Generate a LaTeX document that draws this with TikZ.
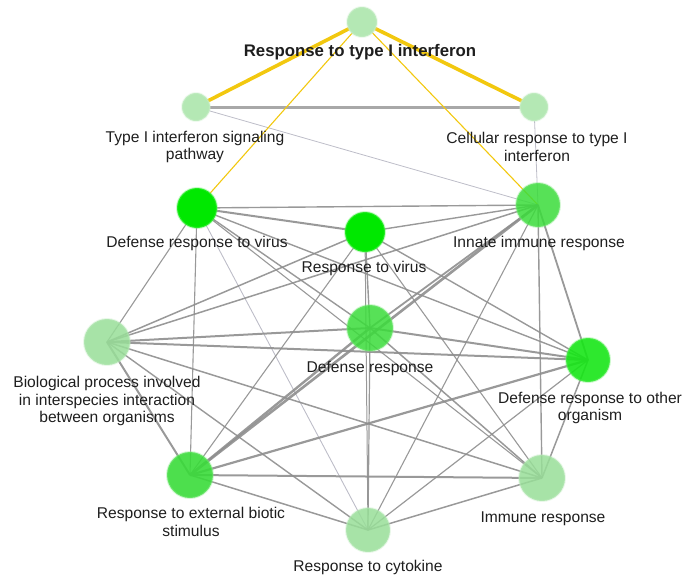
\documentclass[tikz,border=0pt]{standalone}
\usepackage{fontspec}
\setmainfont{Liberation Sans}
\usetikzlibrary{backgrounds}
\definecolor{edgegray}{HTML}{8E8E8E}
\definecolor{lightedge}{HTML}{BDBDC8}
\definecolor{goldline}{HTML}{F2C80F}
\definecolor{palegreen}{HTML}{B4E8B4}
\definecolor{brightgreen}{HTML}{00E800}
\definecolor{midgreen}{HTML}{3ADC3A}
\definecolor{softgreen}{HTML}{98DE98}
\definecolor{txt}{HTML}{1E1E1E}
\begin{document}
\begin{tikzpicture}[x=1pt,y=-1pt,
  gonode/.style 2 args={circle,inner sep=0pt,minimum size=#1,fill=#2,
    draw=#2!60,line width=2pt,draw opacity=0.35},
  lbl/.style={align=center,inner sep=0pt,text=txt,
    font=\fontsize{15.6}{17.6}\selectfont},
  ed/.style={draw=edgegray,line width=#1,draw opacity=0.9},
  led/.style={draw=lightedge,line width=#1},
  yed/.style={draw=goldline,line width=#1}]
\useasboundingbox (0,0) rectangle (689,579);

% nodes
\node[gonode={30pt}{palegreen}] (rit) at (362,22) {};
\node[gonode={28pt}{palegreen}] (t1) at (196,107) {};
\node[gonode={28pt}{palegreen}] (cr) at (534,107) {};
\node[gonode={40pt}{brightgreen}] (drv) at (197,208) {};
\node[gonode={40pt}{brightgreen}] (rv) at (365,232) {};
\node[gonode={44pt}{midgreen},fill opacity=0.85] (iir) at (538,205) {};
\node[gonode={46pt}{softgreen},fill opacity=0.85] (bp) at (107,342) {};
\node[gonode={46pt}{midgreen},fill opacity=0.85] (dr) at (370,328) {};
\node[gonode={44pt}{brightgreen!85!softgreen},fill opacity=0.9] (dro) at (588,360) {};
\node[gonode={46pt}{midgreen},fill opacity=0.9] (re) at (190,475) {};
\node[gonode={46pt}{softgreen},fill opacity=0.85] (ir) at (542,478) {};
\node[gonode={44pt}{softgreen},fill opacity=0.85] (rc) at (368,530) {};

% labels
\node[lbl,font=\fontsize{16.8}{19}\selectfont\bfseries] (lrit) at (360,52) {Response to type I interferon};
\node[lbl] (lt1) at (195,147) {Type I interferon signaling\\pathway};
\node[lbl] (lcr) at (537,147) {Cellular response to type I\\interferon};
\node[lbl] (ldrv) at (197,243) {Defense response to virus};
\node[lbl] (lrv) at (364,268) {Response to virus};
\node[lbl] (liir) at (539,243) {Innate immune response};
\node[lbl] (lbp) at (107,401) {Biological process involved\\in interspecies interaction\\between organisms};
\node[lbl] (ldr) at (370,368) {Defense response};
\node[lbl] (ldro) at (590,408) {Defense response to other\\organism};
\node[lbl] (lre) at (191,522) {Response to external biotic\\stimulus};
\node[lbl] (lir) at (543,519) {Immune response};
\node[lbl] (lrc) at (368,567) {Response to cytokine};

\begin{scope}[on background layer]
% top cluster
\draw[ed=3pt,draw=edgegray!85] (t1.center) -- (cr.center);
\draw[led=0.8pt] (t1.center) -- (iir.center);
\draw[led=0.8pt] (cr.center) -- (iir.center);
\draw[yed=1.1pt] (rit.center) -- (drv.center);
\draw[yed=1.1pt] (rit.center) -- (iir.center);
\draw[yed=3.6pt] (rit.center) -- (t1.center);
\draw[yed=3.6pt] (rit.center) -- (cr.center);
% lower network
\draw[ed=2pt] (drv.center) -- (rv.center);
\draw[ed=1.4pt] (drv.center) -- (iir.center);
\draw[ed=1.1pt] (drv.center) -- (bp.center);
\draw[ed=1.4pt] (drv.center) -- (dr.center);
\draw[ed=1.4pt] (drv.center) -- (dro.center);
\draw[ed=1.1pt] (drv.center) -- (re.center);
\draw[ed=1.1pt] (drv.center) -- (ir.center);
\draw[led=0.9pt] (drv.center) -- (rc.center);
\draw[ed=1.4pt] (rv.center) -- (iir.center);
\draw[ed=1.5pt] (rv.center) -- (bp.center);
\draw[ed=1.4pt] (rv.center) -- (dr.center);
\draw[ed=1.4pt] (rv.center) -- (dro.center);
\draw[ed=1.1pt] (rv.center) -- (re.center);
\draw[ed=1.1pt] (rv.center) -- (ir.center);
\draw[ed=1pt] (rv.center) -- (rc.center);
\draw[ed=1.5pt] (iir.center) -- (bp.center);
\draw[ed=1.8pt] (iir.center) -- (dr.center);
\draw[ed=1.8pt] (iir.center) -- (dro.center);
\draw[ed=2.6pt] (iir.center) -- (re.center);
\draw[ed=1.4pt] (iir.center) -- (ir.center);
\draw[ed=1.1pt] (iir.center) -- (rc.center);
\draw[ed=2pt] (bp.center) -- (dr.center);
\draw[ed=2pt] (bp.center) -- (dro.center);
\draw[ed=2pt] (bp.center) -- (re.center);
\draw[ed=1.5pt] (bp.center) -- (ir.center);
\draw[ed=1.4pt] (bp.center) -- (rc.center);
\draw[ed=2pt] (dr.center) -- (dro.center);
\draw[ed=2.4pt] (dr.center) -- (re.center);
\draw[ed=1.5pt] (dr.center) -- (ir.center);
\draw[ed=1.2pt] (dr.center) -- (rc.center);
\draw[ed=2.2pt] (dro.center) -- (re.center);
\draw[ed=1.5pt] (dro.center) -- (ir.center);
\draw[ed=1.2pt] (dro.center) -- (rc.center);
\draw[ed=2pt] (re.center) -- (ir.center);
\draw[ed=1.5pt] (re.center) -- (rc.center);
\draw[ed=1.5pt] (ir.center) -- (rc.center);
\end{scope}
\end{tikzpicture}
\end{document}
